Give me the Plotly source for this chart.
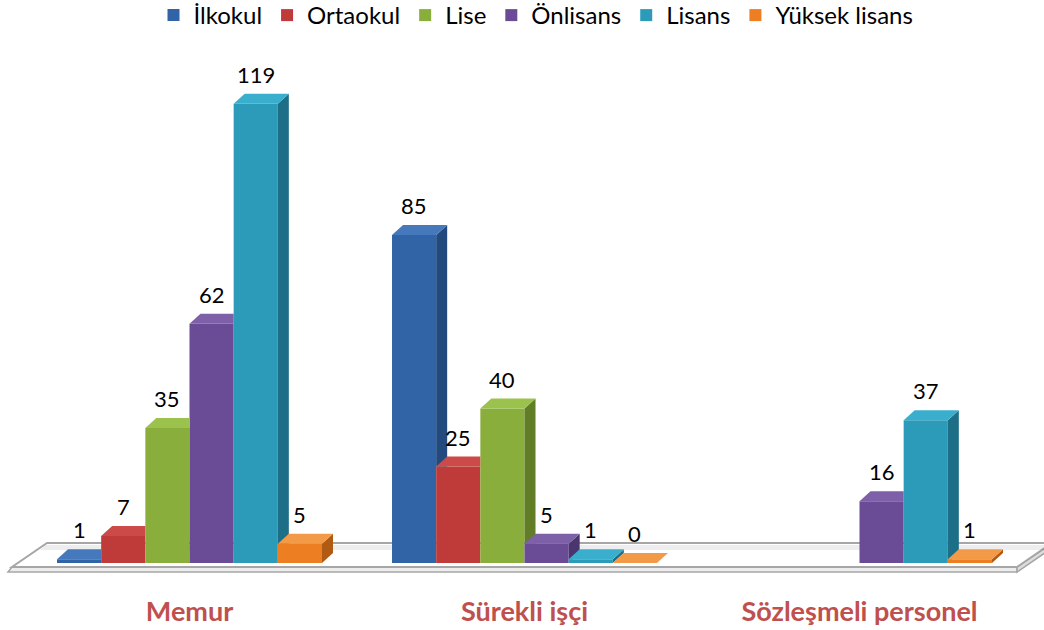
import plotly.graph_objects as go

# ---------------- data ----------------
categories = ["Memur", "Sürekli işçi", "Sözleşmeli personel"]
series_names = ["İlkokul", "Ortaokul", "Lise", "Önlisans", "Lisans", "Yüksek lisans"]
ilkokul = [1, 85, None]
ortaokul = [7, 25, None]
lise = [35, 40, None]
onlisans = [62, 5, 16]
lisans = [119, 1, 37]
yuksek_lisans = [5, 0, 1]
series_values = [ilkokul, ortaokul, lise, onlisans, lisans, yuksek_lisans]

# ---------------- style ----------------
front_colors = ["#3064A6", "#BE3B39", "#8AAE3C", "#6A4C96", "#2C9BBA", "#EE7E22"]
top_colors = ["#4678BC", "#CC4A47", "#9BC24C", "#7D60A8", "#3AAECD", "#F39A48"]
side_colors = ["#234A7E", "#8E2A28", "#617E27", "#4A356F", "#1D6F87", "#B05A14"]
FONT = "Lato"

W, H = 1044, 630
ML, MR, MT, MB = 22, 17, 45, 55
PW, PH = W - ML - MR, H - MT - MB
PX_PER_UNIT = 3.86
Y0_PX = 563                       # pixel row of value 0
Y_MIN = -(H - MB - Y0_PX) / PX_PER_UNIT
Y_MAX = Y_MIN + PH / PX_PER_UNIT
X_MIN, X_MAX = -0.5, len(categories) - 0.5
PX_PER_X = PW / (X_MAX - X_MIN)
BARGAP = 0.209
NS = len(series_names)
BW = (1 - BARGAP) / NS
DX = 11 / PX_PER_X               # depth offset (x units)
DY = 10 / PX_PER_UNIT            # depth offset (y units)


def paper(px, py):
    """pixel -> paper coords"""
    return (px - ML) / PW, (H - MB - py) / PH


fig = go.Figure()

# front faces: real bars
for name, vals, col in zip(series_names, series_values, front_colors):
    fig.add_trace(go.Bar(x=list(range(len(categories))), y=vals, name=name,
                         marker=dict(color=col, line=dict(width=0)),
                         hoverinfo="skip"))

# 3D top and side faces derived from the same values
for c in range(len(categories)):
    for i in range(NS):
        h = series_values[i][c]
        if h is None:
            continue
        L = c - (1 - BARGAP) / 2 + i * BW
        R = L + BW
        hn = series_values[i + 1][c] if i < NS - 1 else None
        hn_eff = hn if hn is not None else 0
        # side face
        if hn is None or hn_eff < h:
            if hn_eff <= 0:
                xs = [R, R + DX, R + DX, R]
                ys = [0, DY, h + DY, h]
            elif hn_eff < DY:
                xs = [R, R + DX * hn_eff / DY, R + DX, R + DX, R]
                ys = [hn_eff, hn_eff, DY, h + DY, h]
            else:
                xs = [R, R + DX, R + DX, R]
                ys = [hn_eff, hn_eff, h + DY, h]
            fig.add_trace(go.Scatter(x=xs + [xs[0]], y=ys + [ys[0]], mode="lines",
                                     fill="toself", fillcolor=side_colors[i],
                                     line=dict(width=0), showlegend=False,
                                     hoverinfo="skip"))
        # top face
        if hn is not None and hn >= h:
            xs = [L, R, R, L + DX]
        else:
            xs = [L, R, R + DX, L + DX]
        ys = [h, h, h + DY, h + DY]
        fig.add_trace(go.Scatter(x=xs + [xs[0]], y=ys + [ys[0]], mode="lines",
                                 fill="toself", fillcolor=top_colors[i],
                                 line=dict(width=0), showlegend=False,
                                 hoverinfo="skip"))
        # value label
        fig.add_annotation(x=L + BW / 2, y=h + DY, text=str(h), showarrow=False,
                           yanchor="bottom", yshift=4,
                           font=dict(family=FONT, size=22, color="#000000"))

# floor slab (decoration, paper coords)
def poly(points):
    pts = [paper(px, py) for px, py in points]
    return "M " + " L ".join(f"{x:.5f},{y:.5f}" for x, y in pts) + " Z"

shapes = [
    dict(type="path", xref="paper", yref="paper", layer="below",
         path=poly([(12, 567), (1017, 567), (1017, 572), (8, 572)]),
         fillcolor="#EDEDED", line=dict(color="#A6A6A6", width=1.5)),
    dict(type="path", xref="paper", yref="paper", layer="below",
         path=poly([(1017, 567), (1052, 543), (1052, 548), (1017, 572)]),
         fillcolor="#DDDDDD", line=dict(color="#A6A6A6", width=1.5)),
    dict(type="path", xref="paper", yref="paper", layer="below",
         path=poly([(47, 543), (1052, 543), (1017, 567), (12, 567)]),
         fillcolor="#FFFFFF", line=dict(color="#A6A6A6", width=2)),
    dict(type="path", xref="paper", yref="paper", layer="below",
         path=poly([(46, 545), (1050, 545), (1044, 550), (40, 550)]),
         fillcolor="rgba(0,0,0,0.07)", line=dict(width=0)),
]

legend_x, legend_y = paper(536, -7)

fig.update_layout(
    width=W, height=H,
    margin=dict(l=ML, r=MR, t=MT, b=MB, autoexpand=False),
    paper_bgcolor="white", plot_bgcolor="rgba(0,0,0,0)",
    barmode="group", bargap=BARGAP, bargroupgap=0,
    shapes=shapes,
    showlegend=True,
    legend=dict(orientation="h", x=legend_x, xanchor="center", y=legend_y, yanchor="top",
                font=dict(family=FONT, size=24, color="#000000"),
                itemwidth=30, tracegroupgap=0, bgcolor="rgba(0,0,0,0)"),
    xaxis=dict(range=[X_MIN, X_MAX], tickmode="array", automargin=False,
               tickvals=list(range(len(categories))), ticktext=categories,
               showgrid=False, zeroline=False, showline=False,
               ticks="outside", ticklen=13, tickcolor="rgba(0,0,0,0)",
               tickfont=dict(family=FONT, size=27, color="#C0504D", weight="bold"),
               fixedrange=True),
    yaxis=dict(range=[Y_MIN, Y_MAX], visible=False, showgrid=False, automargin=False,
               zeroline=False, fixedrange=True),
)

fig.write_html("out.html", config={"displayModeBar": False},
               post_script="document.body.style.margin='0';")
